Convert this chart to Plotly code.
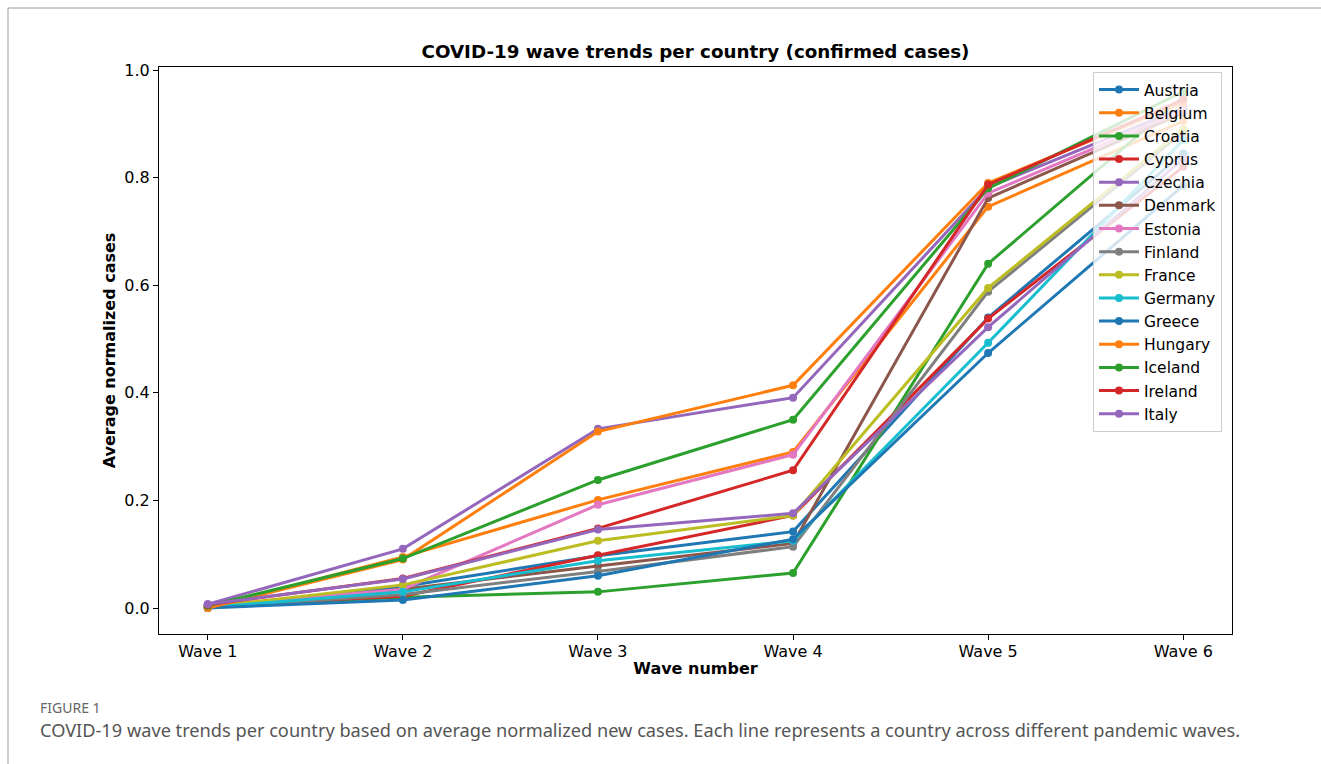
import plotly.graph_objects as go

# Wave labels on the x axis
waves = ["Wave 1", "Wave 2", "Wave 3", "Wave 4", "Wave 5", "Wave 6"]

# Average normalized new cases per wave, one list per country
austria = [0.000, 0.040, 0.097, 0.142, 0.540, 0.845]
belgium = [0.000, 0.095, 0.201, 0.290, 0.746, 0.905]
croatia = [0.003, 0.020, 0.030, 0.065, 0.640, 0.950]
cyprus = [0.005, 0.022, 0.098, 0.172, 0.538, 0.820]
czechia = [0.007, 0.110, 0.333, 0.391, 0.782, 0.930]
denmark = [0.002, 0.035, 0.078, 0.120, 0.762, 0.920]
estonia = [0.004, 0.035, 0.192, 0.285, 0.771, 0.925]
finland = [0.001, 0.025, 0.068, 0.114, 0.588, 0.885]
france = [0.002, 0.043, 0.125, 0.172, 0.595, 0.890]
germany = [0.001, 0.030, 0.088, 0.125, 0.493, 0.870]
greece = [0.000, 0.015, 0.060, 0.128, 0.474, 0.785]
hungary = [0.000, 0.090, 0.328, 0.414, 0.790, 0.940]
iceland = [0.004, 0.092, 0.238, 0.350, 0.780, 0.960]
ireland = [0.006, 0.055, 0.148, 0.256, 0.787, 0.945]
italy = [0.007, 0.054, 0.146, 0.176, 0.522, 0.835]

countries = ["Austria", "Belgium", "Croatia", "Cyprus", "Czechia", "Denmark",
             "Estonia", "Finland", "France", "Germany", "Greece", "Hungary",
             "Iceland", "Ireland", "Italy"]
series = [austria, belgium, croatia, cyprus, czechia, denmark, estonia, finland,
          france, germany, greece, hungary, iceland, ireland, italy]

palette = ["#1f77b4", "#ff7f0e", "#2ca02c", "#d62728", "#9467bd",
           "#8c564b", "#e377c2", "#7f7f7f", "#bcbd22", "#17becf"]

fig = go.Figure()
for i, (name, vals) in enumerate(zip(countries, series)):
    col = palette[i % len(palette)]
    fig.add_trace(go.Scatter(
        x=list(range(len(waves))), y=vals, name=name, mode="lines+markers",
        line=dict(color=col, width=3),
        marker=dict(color=col, size=8),
    ))

# Plot area in pixels: x 159..1232, y 67..634 within a 1321x764 page
L, R, T, B = 159, 1232, 67, 634
W, H = 1321, 764


def px(xp):
    return (xp - L) / (R - L)


def py(yp):
    return (B - yp) / (B - T)


font = "DejaVu Sans"
axis_common = dict(
    showline=True, linecolor="black", linewidth=1, mirror=True,
    ticks="outside", ticklen=5, tickwidth=1, tickcolor="black",
    showgrid=False, zeroline=False,
    tickfont=dict(family=font, size=16, color="black"),
)

fig.update_layout(
    width=W, height=H,
    margin=dict(l=L, r=W - R, t=T, b=H - B),
    paper_bgcolor="white", plot_bgcolor="white",
    title=dict(
        text="<b>COVID-19 wave trends per country (confirmed cases)</b>",
        font=dict(family=font, size=18.3, color="black"),
        x=695.5 / W, xref="container", xanchor="center",
        y=1 - 52 / H, yref="container", yanchor="middle",
    ),
    xaxis=dict(
        **axis_common,
        range=[-0.25, 5.25],
        tickvals=list(range(len(waves))), ticktext=waves,
        ticklabelstandoff=-2,
        title=dict(text="<b>Wave number</b>",
                   font=dict(family=font, size=16, color="black"), standoff=2),
    ),
    yaxis=dict(
        **axis_common,
        range=[-0.0483, 1.0056],
        tickvals=[0, 0.2, 0.4, 0.6, 0.8, 1.0],
        ticktext=["0.0", "0.2", "0.4", "0.6", "0.8", "1.0"],
        title=dict(text="<b>Average normalized cases</b>",
                   font=dict(family=font, size=16, color="black"), standoff=4),
    ),
    legend=dict(
        x=px(1222), xanchor="right", y=py(72), yanchor="top",
        bgcolor="rgba(255,255,255,0.8)", bordercolor="#cccccc", borderwidth=1,
        font=dict(family=font, size=15.5, color="black"),
        itemwidth=40, tracegroupgap=0,
    ),
    showlegend=True,
)

# Frame around the figure panel (top and left edges)
fig.add_shape(type="line", xref="paper", yref="paper",
              x0=px(8), x1=px(1321), y0=py(8), y1=py(8),
              line=dict(color="#9a9a9a", width=1))
fig.add_shape(type="line", xref="paper", yref="paper",
              x0=px(8), x1=px(8), y0=py(8), y1=py(764),
              line=dict(color="#9a9a9a", width=1))

# Figure caption
cap_font = "Noto Sans"
fig.add_annotation(text="FIGURE 1", xref="paper", yref="paper",
                   x=px(38), y=py(707), xanchor="left", yanchor="middle",
                   showarrow=False,
                   font=dict(family=cap_font, size=14, color="#666666"))
fig.add_annotation(
    text="COVID-19 wave trends per country based on average normalized new cases. "
         "Each line represents a country across different pandemic waves.",
    xref="paper", yref="paper", x=px(38), y=py(730),
    xanchor="left", yanchor="middle", showarrow=False,
    font=dict(family=cap_font, size=18.2, color="#555555"))

fig.write_html("out.html")
